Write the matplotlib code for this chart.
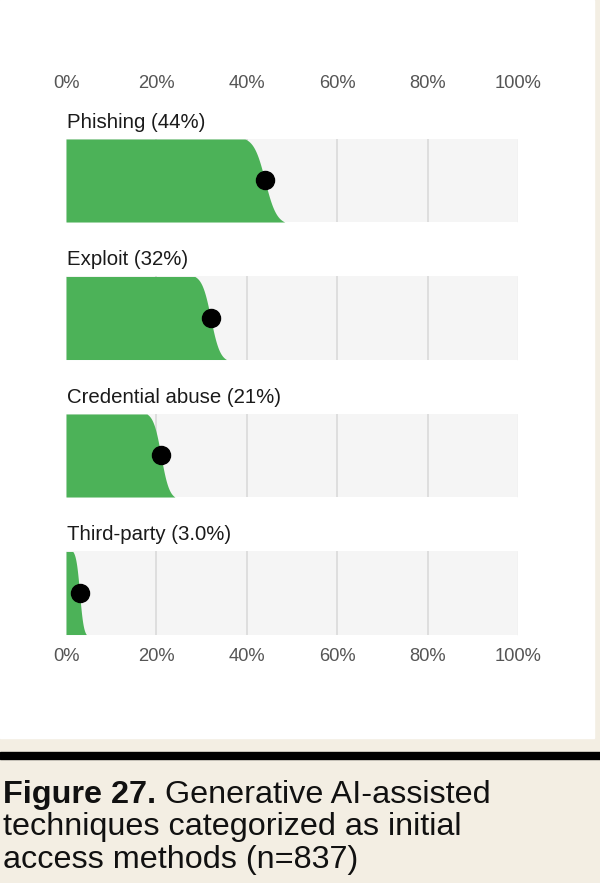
import numpy as np
import matplotlib
matplotlib.use('Agg')
import matplotlib.pyplot as plt
from matplotlib.patches import Rectangle

# data
methods = ['Phishing', 'Exploit', 'Credential abuse', 'Third-party']
shares = [44, 32, 21, 3.0]
share_labels = ['44%', '32%', '21%', '3.0%']
spread = [4.4, 3.5, 3.1, 1.5]   # half width of the green edge, in % points
ticks = [0, 20, 40, 60, 80, 100]
tick_labels = ['0%', '20%', '40%', '60%', '80%', '100%']

BEIGE = '#f3eee3'
GREEN = '#4cb258'
W, H = 600, 883
CAP = 23.3

plt.rcParams['font.family'] = ['Liberation Sans', 'DejaVu Sans']

fig = plt.figure(figsize=(W / 100, H / 100), dpi=100, facecolor=BEIGE)

# white panel + black rule
fig.patches.append(Rectangle((0, 1 - 738 / H), 594 / W, 738 / H,
                             transform=fig.transFigure, color='white', zorder=0))
fig.patches.append(Rectangle((0, 1 - 759 / H), 1, 7 / H,
                             transform=fig.transFigure, color='black', zorder=0))

# axes in pixel terms: x 66..518, y 100..640
top_px, bot_px = 100, 640
c0, step = 180.5, 137.5
ax = fig.add_axes([66 / W, 1 - bot_px / H, 452 / W, (bot_px - top_px) / H])
ax.set_zorder(2)
ax.set_xlim(0, 100)
ax.set_ylim((bot_px - c0) / step, (top_px - c0) / step)
ax.patch.set_alpha(0)
for s in ax.spines.values():
    s.set_visible(False)

half = 0.302
for i, (name, v, lab, hw) in enumerate(zip(methods, shares, share_labels, spread)):
    ax.barh(i, 100, height=2 * half, left=0, color='#f5f5f5', zorder=1)
    ax.vlines([20, 40, 60, 80], i - half, i + half, color='#dcdcdc', lw=1.3, zorder=2)
    ax.vlines([100], i - half, i + half, color='#e8e8e8', lw=1, zorder=2)
    # soft right edge of the green area
    t = np.linspace(0, 1, 200)
    p = 0.03 + 0.94 * t
    sc = hw / np.log(0.97 / 0.03)
    xe = np.clip(v + sc * np.log(p / (1 - p)), 0, 100)
    ye = i - half + 2 * half * t
    ax.fill_betweenx(ye, 0, xe, color=GREEN, lw=0, zorder=3)
    ax.plot([v], [i], 'o', ms=13, color='black', zorder=4)
    ax.text(0.2, i - half - 11 / step, '{} ({})'.format(name, lab),
            fontsize=14.7, color='#1a1a1a', va='baseline', ha='left')

ax.set_yticks([])
ax.set_xticks(ticks)
ax.set_xticklabels(tick_labels)
ax.tick_params(axis='x', length=0, labelsize=13.2, labelcolor='#555555',
               top=True, labeltop=True, bottom=True, labelbottom=True, pad=6)

# caption
t1 = fig.text(3 / W, 1 - 803 / H, 'Figure 27.', fontsize=CAP,
              fontweight='bold', color='#111111', va='baseline')
fig.text(3 / W, 1 - 835 / H, 'techniques categorized as initial', fontsize=CAP,
         color='#111111', va='baseline')
fig.text(3 / W, 1 - 868 / H, 'access methods (n=837)', fontsize=CAP,
         color='#111111', va='baseline')
fig.canvas.draw()
bb = t1.get_window_extent(fig.canvas.get_renderer())
fig.text(bb.x1 / W, 1 - 803 / H, ' Generative AI-assisted', fontsize=CAP,
         color='#111111', va='baseline')

fig.savefig('out.png', dpi=100, facecolor=BEIGE)
